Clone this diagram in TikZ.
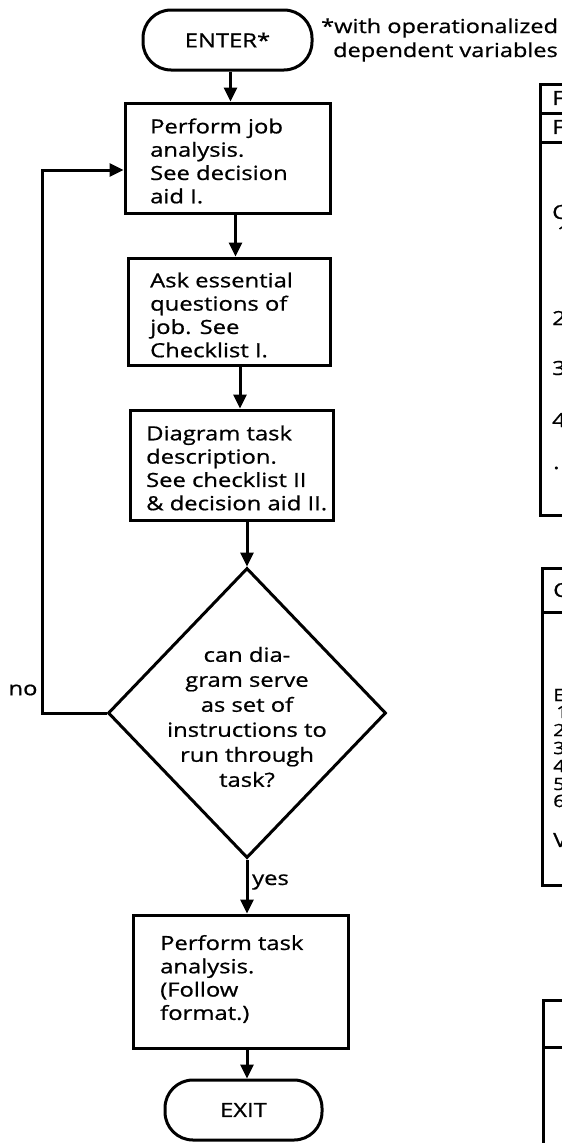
\documentclass[tikz,border=0pt]{standalone}
\usepackage{fontspec}
\setmainfont{Open Sans}[FakeStretch=1.22, FakeBold=0.8]
\usetikzlibrary{arrows.meta,shapes.geometric}
\begin{document}
\begin{tikzpicture}[x=1pt,y=-1pt,
  every node/.style={font=\fontsize{19.5}{23.3}\selectfont},
  procbox/.style={draw, line width=3pt, inner sep=0pt},
  term/.style={draw, line width=3pt, rounded corners=28pt, inner sep=0pt},
  arr/.style={line width=3pt, -{Triangle[length=14pt,width=13pt]}},
  wire/.style={line width=3pt},
  txt/.style={inner sep=0pt, align=left, anchor=west},
  lbl/.style={inner sep=0pt},
  part/.style={inner sep=0pt, anchor=west},
  small/.style={inner sep=0pt, anchor=west, font=\fontsize{17}{18}\selectfont},
]
\useasboundingbox (0,0) rectangle (562,1143);
\fill[white] (0,0) rectangle (562,1143);

% terminals
\node[term, minimum width=169pt, minimum height=60pt] (enter) at (227.5,40) {ENTER*};
\node[lbl, anchor=west, align=left, font=\fontsize{19.3}{24}\selectfont] (note) at (321,40) {*with operationalized\\\hspace*{12pt}dependent variables};

% process boxes
\node[procbox, minimum width=205pt, minimum height=110pt] (b1) at (227.5,158) {};
\node[txt] (t1) at (150,161) {Perform job\\analysis.\\See decision\\aid I.};
\node[procbox, minimum width=202pt, minimum height=107pt] (b2) at (229,311.5) {};
\node[txt] (t2) at (150,315) {Ask essential\\questions of\\job. See\\Checklist I.};
\node[procbox, minimum width=203pt, minimum height=110pt] (b3) at (231.5,465) {};
\node[txt] (t3) at (146,468) {Diagram task\\description.\\See checklist II\\\& decision aid II.};

% decision
\node[draw, diamond, line width=3pt, minimum width=278pt, minimum height=290pt, inner sep=0pt] (dia) at (247,713) {};
\node[lbl, align=center, font=\fontsize{19.5}{25}\selectfont] (diatxt) at (247,717) {can dia-\\gram serve\\as set of\\instructions to\\run through\\task?};

\node[procbox, minimum width=215pt, minimum height=133pt] (b4) at (240.5,981.5) {};
\node[txt] (t4) at (160,979) {Perform task\\analysis.\\(Follow\\format.)};
\node[term, minimum width=157pt, minimum height=60pt] (exit) at (243.5,1110) {EXIT};

% connectors
\draw[arr] ([xshift=3pt]enter.south) -- ([xshift=3pt]enter.south |- b1.north);
\draw[arr] ([xshift=8pt]b1.south) -- ([xshift=8pt]b1.south |- b2.north);
\draw[arr] ([xshift=11pt]b2.south) -- ([xshift=11pt]b2.south |- b3.north);
\draw[arr] (dia.north |- b3.south) -- (dia.north);
\draw[arr] (dia.south) -- (dia.south |- b4.north);
\draw[arr] (dia.south |- b4.south) -- (dia.south |- exit.north);

\coordinate (lp) at (42,713);
\draw[arr] (dia.west) -- (lp) |- ([yshift=-12pt]b1.west);
\node[lbl] (no) at (23,690) {no};
\node[lbl, anchor=west] (yes) at (252,882) {yes};

% partial boxes at right edge
\begin{scope}
\clip (0,0) rectangle (562,1143);
\draw[wire] (570,84) -- (540,84) -- (540,515) -- (570,515);
\draw[wire] (540,113) -- (570,113);
\draw[wire] (540,142) -- (570,142);
\node[part] (r1a) at (552,98) {F};
\node[part] (r1b) at (552,127) {F};
\node[part] (r1c) at (552,212) {C};
\node[small] (r1d) at (557,232) {1};
\node[part] (r1e) at (552,318) {2};
\node[part] (r1f) at (552,368) {3};
\node[part] (r1g) at (552,420) {4};
\node[part] (r1h) at (553,468) {.};

\draw[wire] (570,568) -- (542,568) -- (542,885) -- (570,885);
\draw[wire] (542,612) -- (570,612);
\node[part] (r2a) at (553,590) {C};
\node[small] (r2b) at (553,695) {E};
\node[small] (r2c) at (556,712) {1};
\node[small] (r2d) at (553,730) {2};
\node[small] (r2e) at (553,748) {3};
\node[small] (r2f) at (553,766) {4};
\node[small] (r2g) at (553,784) {5};
\node[small] (r2h) at (553,801) {6};
\node[part] (r2i) at (553,840) {V};

\draw[wire] (570,1000) -- (543,1000) -- (543,1160);
\draw[wire] (543,1047) -- (570,1047);
\end{scope}
\end{tikzpicture}
\end{document}
